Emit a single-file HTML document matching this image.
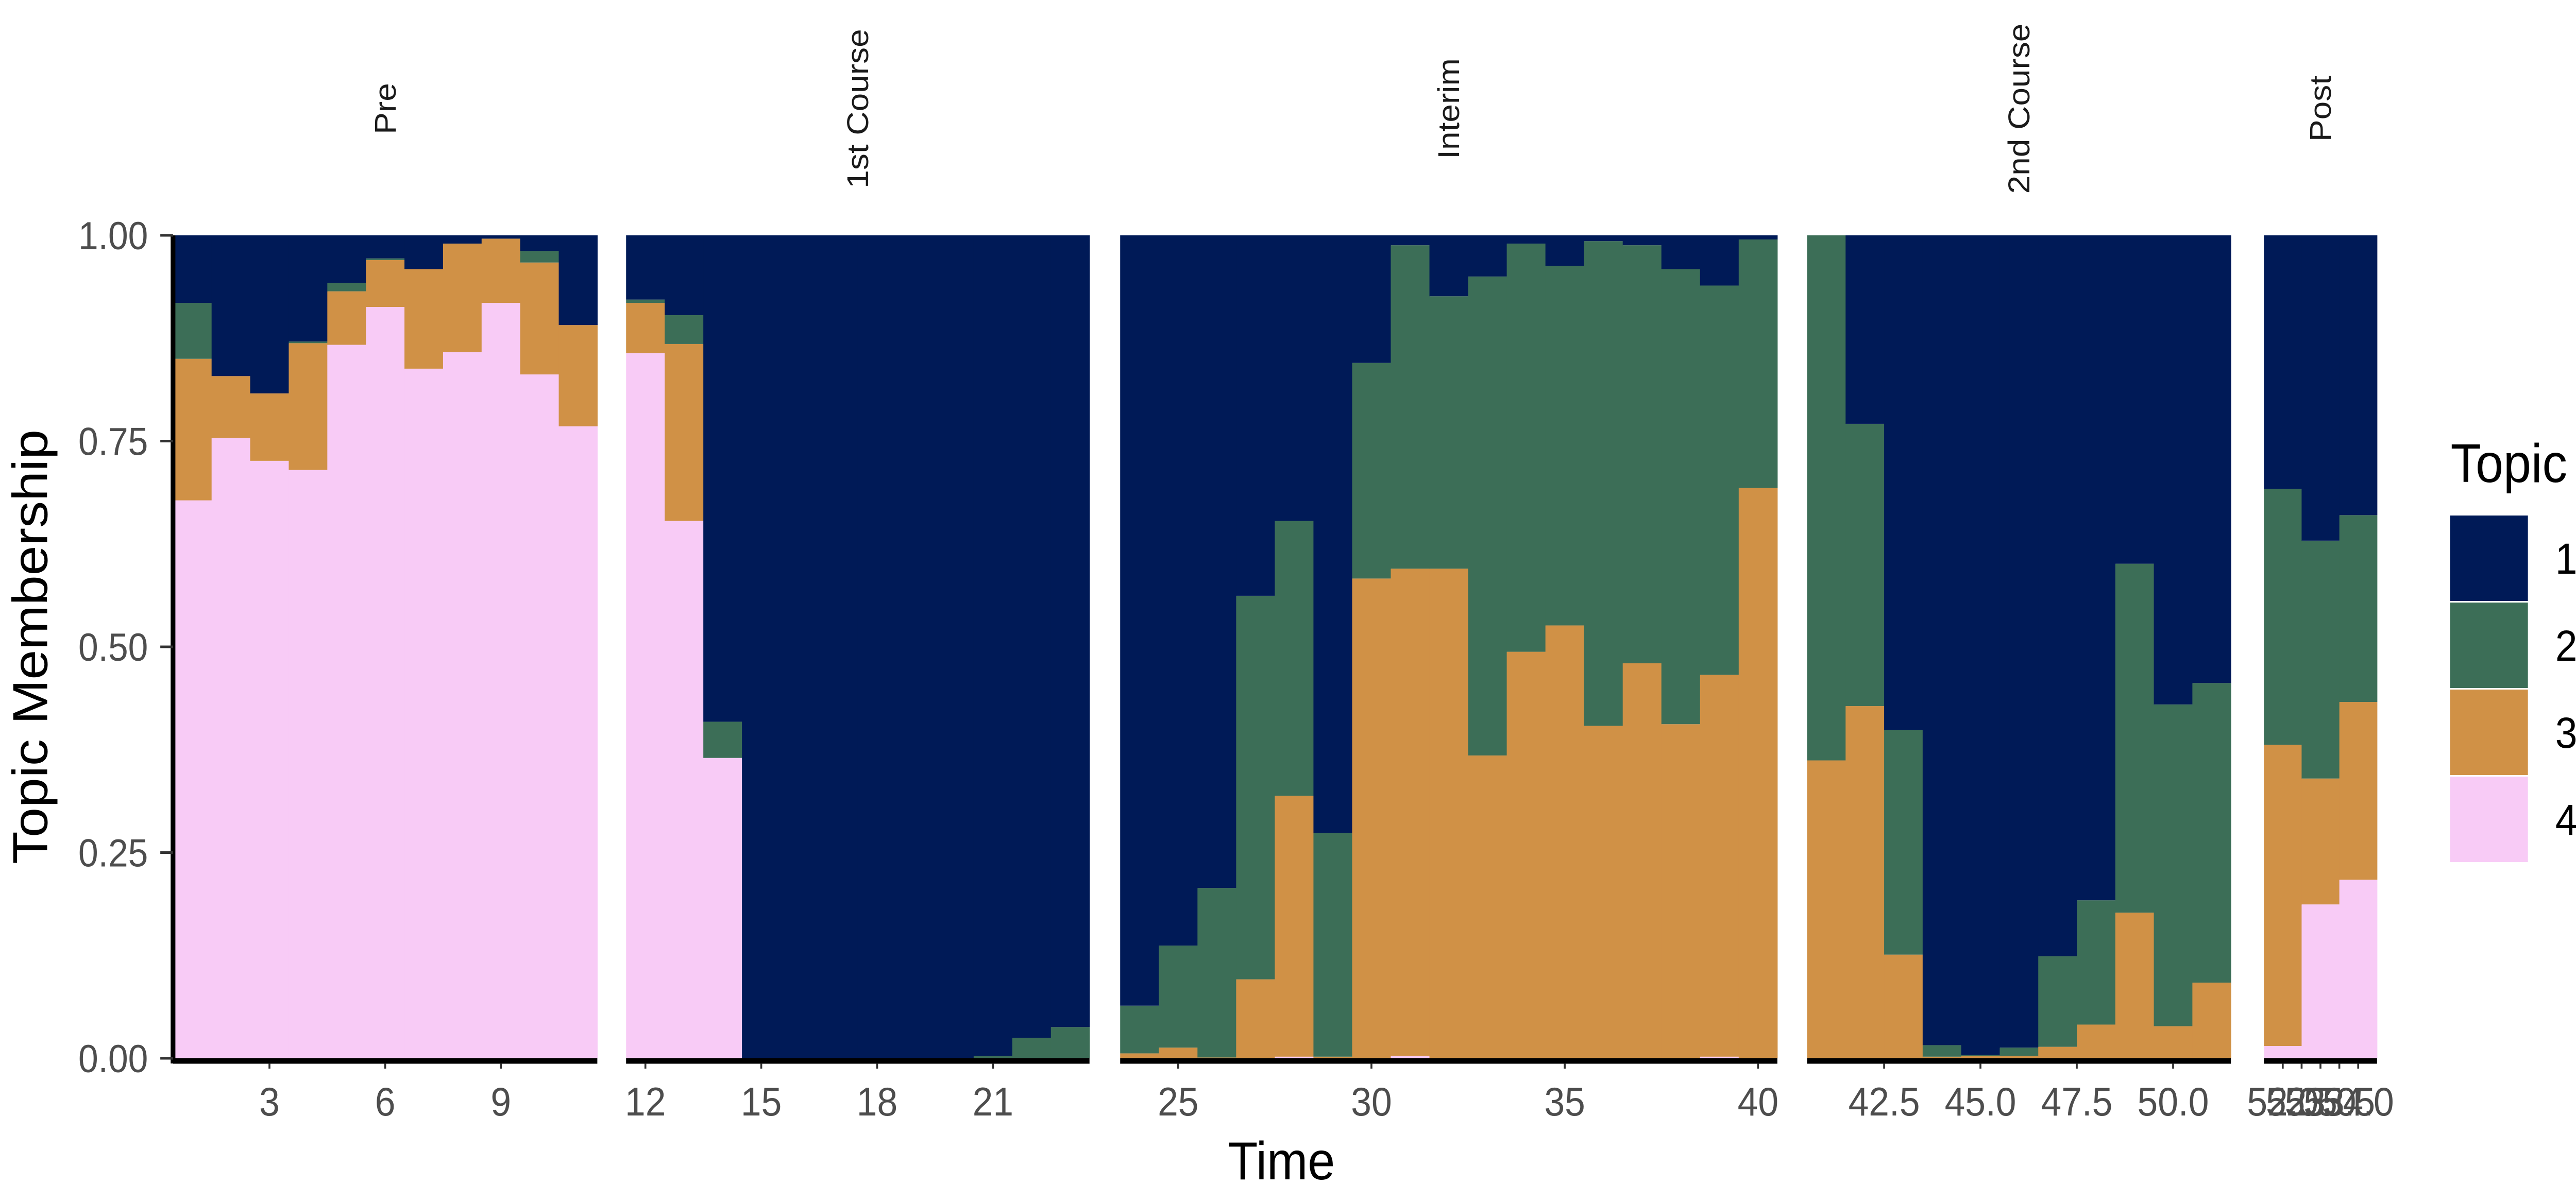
<!DOCTYPE html>
<html><head><meta charset="utf-8"><style>
html,body{margin:0;padding:0;background:#fff;overflow:hidden;width:100%;height:100%;}
svg{display:block;font-family:"Liberation Sans",Arial,sans-serif;width:100vw;height:100vh;}
</style></head><body>
<svg id="chart" viewBox="0 0 5464 2334" preserveAspectRatio="none" xmlns="http://www.w3.org/2000/svg">
<rect x="0" y="0" width="5464" height="2334" fill="#fff"/>
<g id="marks"></g>
<g id="axes"></g>
<text transform="translate(100,1256) rotate(-90)" text-anchor="middle" font-size="104" fill="#000">Topic Membership</text>
<text x="2718" y="2290" text-anchor="middle" font-size="104" fill="#000">Time</text>
<g>
<text x="5198" y="936" font-size="106" fill="#000">Topic</text>
<rect x="5197" y="1001" width="165" height="166" fill="#001a57"/>
<rect x="5197" y="1170" width="165" height="166" fill="#3c6e57"/>
<rect x="5197" y="1339" width="165" height="166" fill="#d09146"/>
<rect x="5197" y="1508" width="165" height="166" fill="#f8cbf6"/>
<text x="5420" y="1114" font-size="84" fill="#000">1</text>
<text x="5420" y="1283" font-size="84" fill="#000">2</text>
<text x="5420" y="1452" font-size="84" fill="#000">3</text>
<text x="5420" y="1621" font-size="84" fill="#000">4</text>
</g>
</svg>
<script>
// data
const times = [];
for (let t = 1; t <= 54; t++) times.push(t);
const topic4 = [.678,.754,.726,.715,.867,.913,.838,.858,.918,.831,.768,
 .857,.653,.365,0,0,0,0,0,0,0,0,0,
 0,0,0,0,.002,0,0,.003,0,0,0,0,0,0,0,.002,0,
 0,0,0,0,0,0,0,0,0,0,0,
 .015,.187,.217];
const topic3 = [.172,.075,.082,.154,.065,.057,.121,.132,.078,.136,.123,
 .061,.215,0,0,0,0,0,0,0,0,0,0,
 .006,.013,.001,.096,.317,.002,.583,.592,.595,.368,.494,.526,.404,.480,.406,.464,.693,
 .362,.428,.126,.002,.003,.003,.014,.041,.177,.039,.092,
 .366,.153,.216];
const topic2 = [.068,0,0,.002,.010,.002,0,0,0,.014,0,
 .004,.035,.044,0,0,0,0,0,0,.003,.025,.038,
 .058,.124,.206,.466,.334,.272,.262,.393,.331,.582,.496,.437,.589,.508,.553,.473,.302,
 .638,.343,.273,.014,.001,.010,.110,.151,.424,.391,.364,
 .311,.289,.227];
const panelNames = ["Pre","1st Course","Interim","2nd Course","Post"];
const panelMin = [1,12,24,41,52];
const panelMax = [11,23,40,51,54];
const panelTicks = [[3,6,9],[12,15,18,21],[25,30,35,40],[42.5,45,47.5,50],[52,52.5,53,53.5,54]];
const panelTickLabels = [["3","6","9"],["12","15","18","21"],["25","30","35","40"],["42.5","45.0","47.5","50.0"],["52.0","52.5","53.0","53.5","54.0"]];
const yTicks = [0,0.25,0.5,0.75,1];
const yTickLabels = ["0.00","0.25","0.50","0.75","1.00"];
const colors = ["#001a57","#3c6e57","#d09146","#f8cbf6"];

// layout
const panelX0 = [367,1328,2376,3833,4802];
const panelX1 = [1267,2311,3770,4732,5042];
const Y0 = 2055, Y1 = 457;
const NS = "http://www.w3.org/2000/svg";
function yS(v){ return Y0 - v*(Y0-Y1); }
function xS(p, t){ const lo = panelMin[p]-0.5, hi = panelMax[p]+0.5; return panelX0[p] + (t-lo)/(hi-lo)*(panelX1[p]-panelX0[p]); }
function mk(tag, attrs, parent){ const e = document.createElementNS(NS, tag); for (const k in attrs) e.setAttribute(k, attrs[k]); parent.appendChild(e); return e; }
const marks = document.getElementById('marks');
const axes = document.getElementById('axes');
function panelOf(t){ for (let p=0;p<5;p++) if (t>=panelMin[p] && t<=panelMax[p]) return p; return -1; }

times.forEach((t,i)=>{
  const p = panelOf(t);
  const xa = xS(p, t-0.5), xb = xS(p, t+0.5);
  let cum = 0;
  const v4 = topic4[i], v3 = topic3[i], v2 = topic2[i];
  const v1 = Math.max(0, 1 - v4 - v3 - v2);
  const stack = [[v4,3,'4'],[v3,2,'3'],[v2,1,'2'],[v1,0,'1']];
  stack.forEach(s=>{
    const h = s[0];
    if (h > 0) {
      const r = mk('rect', {x: xa, y: yS(cum+h), width: xb-xa+0.6, height: yS(cum)-yS(cum+h), fill: colors[s[1]]}, marks);
      
      
    }
    cum += h;
  });
});

for (let p=0;p<5;p++){
  const strip = mk('text', {transform:'translate('+((panelX0[p]+panelX1[p])/2+22)+',211) rotate(-90)', 'text-anchor':'middle', 'font-size':'64', fill:'#1a1a1a'}, axes);
  strip.textContent = panelNames[p];
  
  
  const ax = mk('line', {x1:panelX0[p], x2:panelX1[p], y1:Y0+5, y2:Y0+5, stroke:'#000', 'stroke-width':11}, axes);
  
  
  panelTicks[p].forEach((tv,j)=>{
    const x = xS(p, tv);
    const tk = mk('line', {x1:x, x2:x, y1:Y0+10, y2:Y0+20, stroke:'#333', 'stroke-width':4}, axes);
    
    
    const lb = mk('text', {x:x, y:2166, 'text-anchor':'middle', 'font-size':'78', fill:'#4d4d4d'}, axes);
    lb.textContent = panelTickLabels[p][j];
    
    
  });
}
const yl = mk('line', {x1:367, x2:367, y1:Y1, y2:Y0+10, stroke:'#000', 'stroke-width':10}, axes);


yTicks.forEach((v,j)=>{
  const y = yS(v);
  const tk = mk('line', {x1:340, x2:367, y1:y, y2:y, stroke:'#333', 'stroke-width':5}, axes);
  
  
  const lb = mk('text', {x:314, y:y+27, 'text-anchor':'end', 'font-size':'76', fill:'#4d4d4d'}, axes);
  lb.textContent = yTickLabels[j];
  
  
});
</script>
</body></html>
